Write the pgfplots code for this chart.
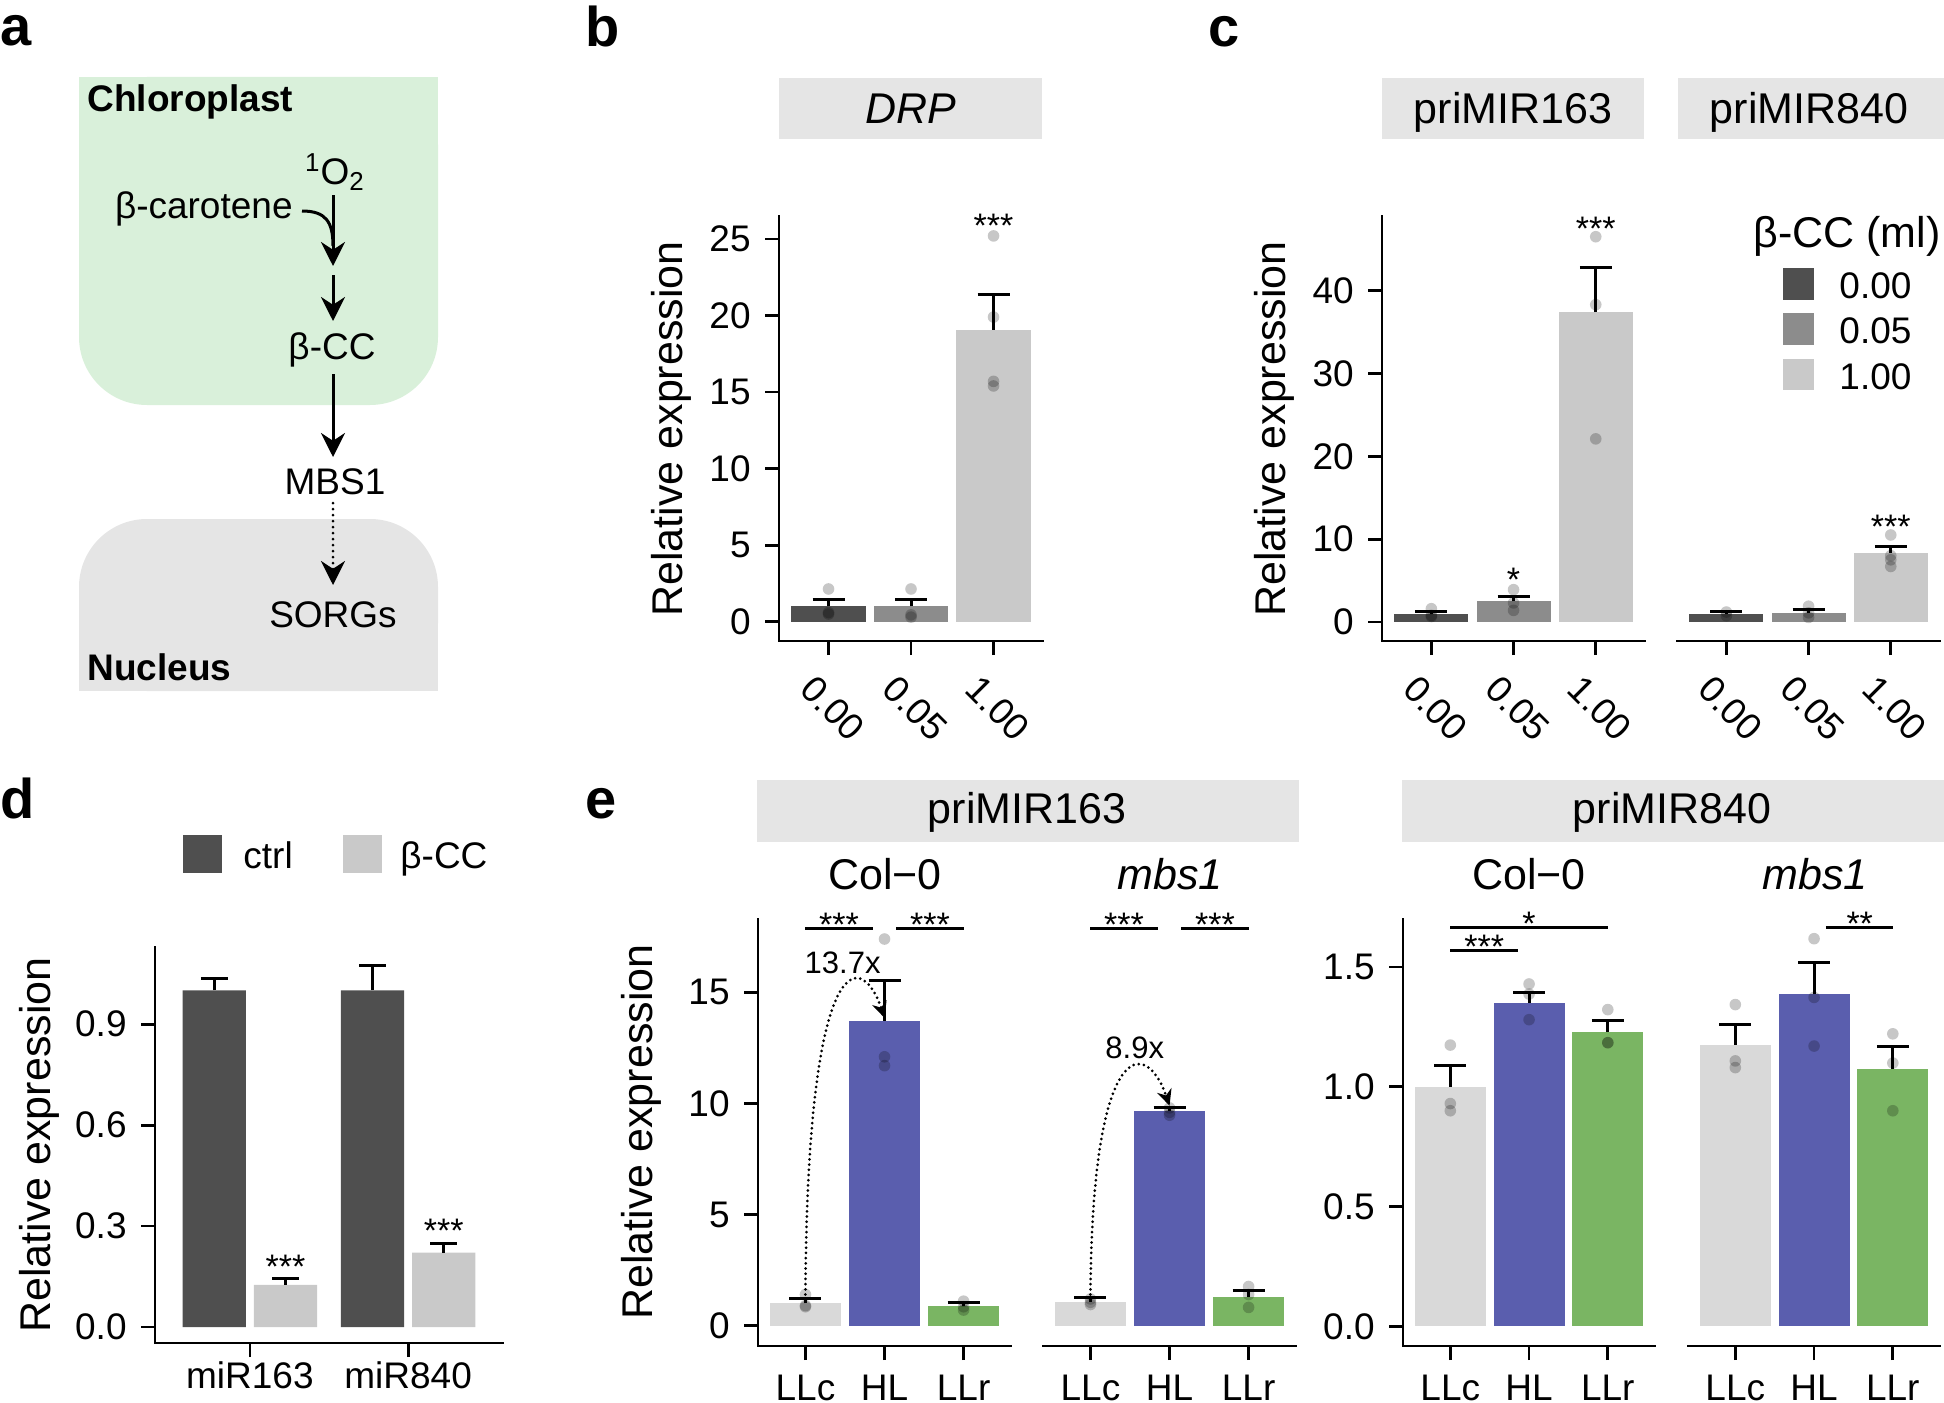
\documentclass[border=0pt]{standalone}
\usepackage{fontspec}
\setmainfont{Liberation Sans}
\usepackage{pgfplots}
\pgfplotsset{compat=1.18}
\usetikzlibrary{arrows.meta}

% colours
\definecolor{g0}{HTML}{4F4F4F}
\definecolor{g1}{HTML}{8C8C8C}
\definecolor{g2}{HTML}{C9C9C9}
\definecolor{llc}{HTML}{D9D9D9}
\definecolor{hl}{HTML}{5A5EAE}
\definecolor{llr}{HTML}{7AB563}
\definecolor{stripgray}{HTML}{E5E5E5}
\definecolor{chloro}{HTML}{D9F0DA}

\newcommand{\tickfont}{\fontsize{18.5bp}{22bp}\selectfont}
\newcommand{\titlefont}{\fontsize{21.5bp}{26bp}\selectfont}
\newcommand{\starfont}{\fontsize{17bp}{20bp}\selectfont}
\newcommand{\panelfont}{\fontsize{28bp}{32bp}\selectfont\bfseries}

\pgfplotsset{
  gg/.style={
    scale only axis, anchor=south west, clip=false,
    axis x line*=bottom, axis y line*=left,
    axis line style={line width=1.4bp, line cap=rect},
    tick style={line width=1.4bp, black},
    tick align=outside, major tick length=7bp,
    xmin=0.4, xmax=3.6, xtick={1,2,3},
    tick label style={font=\tickfont},
    /pgf/number format/assume math mode=true,
    yticklabel style={inner sep=0pt, xshift=-7bp},
  },
  noy/.style={axis y line=none, ymajorticks=false},
  rot/.style={xticklabel style={inner sep=0pt, anchor=north west, xshift=-6bp, yshift=-9bp, rotate=-45}},
  flat/.style={xticklabel style={inner sep=0pt, anchor=north, yshift=#1}},
  bar/.style={ybar, bar width=0.9, bar shift=0pt, draw=none, fill=#1,
    /pgfplots/error bars/y dir=plus, /pgfplots/error bars/y explicit,
    /pgfplots/error bars/error mark=|,
    /pgfplots/error bars/error bar style={draw=black, line width=1.5bp, solid},
    /pgfplots/error bars/error mark options={draw=black, line width=1.5bp, mark size=8bp}},
  pts/.style={only marks, mark=*, mark size=2.9bp,
    mark options={solid, fill=black, fill opacity=0.22, draw opacity=0}},
}
\tikzset{
  star/.style={font=\starfont, anchor=base, inner sep=0pt},
  sig/.style={line width=1.4bp},
  fold/.style={line width=1.5bp, dash pattern=on 0pt off 2.6bp, line cap=round,
    -{Stealth[length=8bp, width=7.5bp]}},
}

\begin{document}
\begin{tikzpicture}

% ---------- panel b ----------
\begin{axis}[gg, rot, at={(389.5bp,-320.5bp)}, width=132bp, height=212.5bp,
  ymin=-1.26, ymax=26.5, ytick={0,5,10,15,20,25}, xticklabels={0.00,0.05,1.00}]
\addplot[bar=g0] coordinates {(1,1.0) +- (0,0.42)};
\addplot[bar=g1] coordinates {(2,1.02) +- (0,0.44)};
\addplot[bar=g2] coordinates {(3,19.06) +- (0,2.34)};
\addplot[pts] coordinates {(1,2.14) (1,0.6) (1,0.5) (2,2.14) (2,0.3) (2,0.45)
  (3,25.2) (3,19.9) (3,15.7) (3,15.4)};
\node[star] at (axis cs:3,25.1) {***};
\end{axis}

% ---------- panel c ----------
\begin{axis}[gg, rot, at={(691bp,-320.5bp)}, width=131.5bp, height=212.5bp,
  ymin=-2.3, ymax=49, ytick={0,10,20,30,40}, xticklabels={0.00,0.05,1.00}]
\addplot[bar=g0] coordinates {(1,1.0) +- (0,0.27)};
\addplot[bar=g1] coordinates {(2,2.5) +- (0,0.6)};
\addplot[bar=g2] coordinates {(3,37.4) +- (0,5.4)};
\addplot[pts] coordinates {(1,1.6) (1,0.66) (1,0.8) (2,3.9) (2,2.3) (2,1.4)
  (3,46.5) (3,38.3) (3,22.1)};
\node[star] at (axis cs:2,3.7) {*};
\node[star] at (axis cs:3,46.1) {***};
\end{axis}
\begin{axis}[gg, noy, rot, at={(838.5bp,-320.5bp)}, width=131.5bp, height=212.5bp,
  ymin=-2.3, ymax=49, xticklabels={0.00,0.05,1.00}]
\addplot[bar=g0] coordinates {(1,0.97) +- (0,0.27)};
\addplot[bar=g1] coordinates {(2,1.08) +- (0,0.37)};
\addplot[bar=g2] coordinates {(3,8.35) +- (0,0.8)};
\addplot[pts] coordinates {(1,1.2) (1,0.75) (2,1.9) (2,0.55) (2,1.1)
  (3,10.5) (3,8.0) (3,7.5) (3,6.7)};
\node[star] at (axis cs:3,10.1) {***};
\end{axis}

% ---------- panel d ----------
\begin{axis}[gg, flat=-2bp, at={(77.5bp,-671.5bp)}, width=174bp, height=198bp,
  xmin=0.4, xmax=2.6, xtick={1,2}, xticklabels={miR163,miR840},
  ymin=-0.0475, ymax=1.129, ytick={0,0.3,0.6,0.9}, yticklabels={0.0,0.3,0.6,0.9}]
\addplot[bar=g0, bar width=0.4,
  /pgfplots/error bars/error mark options={draw=black, line width=1.5bp, mark size=6.75bp}]
  coordinates {(0.775,1.0) +- (0,0.037) (1.775,1.0) +- (0,0.073)};
\addplot[bar=g2, bar width=0.4,
  /pgfplots/error bars/error mark options={draw=black, line width=1.5bp, mark size=6.75bp}]
  coordinates {(1.225,0.125) +- (0,0.019) (2.225,0.221) +- (0,0.028)};
\node[star] at (axis cs:1.225,0.145) {***};
\node[star] at (axis cs:2.225,0.252) {***};
\end{axis}

% ---------- panel e: priMIR163 ----------
\begin{axis}[gg, flat=-7.5bp, at={(379bp,-673bp)}, width=126.5bp, height=213.5bp,
  ymin=-0.92, ymax=18.3, ytick={0,5,10,15}, xticklabels={LLc,HL,LLr}]
\addplot[bar=llc] coordinates {(1,1.0) +- (0,0.22)};
\addplot[bar=hl] coordinates {(2,13.73) +- (0,1.81)};
\addplot[bar=llr] coordinates {(3,0.89) +- (0,0.14)};
\addplot[pts] coordinates {(1,1.4) (1,0.85) (1,0.9) (2,17.4) (2,12.1) (2,11.7)
  (3,1.1) (3,0.85) (3,0.7)};
\draw[sig] (axis cs:1,17.88) -- (axis cs:1.85,17.88);
\draw[sig] (axis cs:2.15,17.88) -- (axis cs:3,17.88);
\node[star] at (axis cs:1.425,17.5) {***};
\node[star] at (axis cs:2.575,17.5) {***};
\draw[fold] (axis cs:1,1.4) .. controls (axis cs:1.02,17.0) and (axis cs:1.7,17.0) .. (axis cs:2,13.85);
\node[font=\fontsize{15.5bp}{18bp}\selectfont, inner sep=0pt] at (axis cs:1.47,16.35) {13.7x};
\end{axis}
\begin{axis}[gg, noy, flat=-7.5bp, at={(521.5bp,-673bp)}, width=126.5bp, height=213.5bp,
  ymin=-0.92, ymax=18.3, xticklabels={LLc,HL,LLr}]
\addplot[bar=llc] coordinates {(1,1.07) +- (0,0.18)};
\addplot[bar=hl] coordinates {(2,9.65) +- (0,0.16)};
\addplot[bar=llr] coordinates {(3,1.31) +- (0,0.27)};
\addplot[pts] coordinates {(1,1.2) (1,0.95) (1,1.05) (2,9.8) (2,9.47) (2,9.6)
  (3,1.76) (3,1.4) (3,0.82)};
\draw[sig] (axis cs:1,17.88) -- (axis cs:1.85,17.88);
\draw[sig] (axis cs:2.15,17.88) -- (axis cs:3,17.88);
\node[star] at (axis cs:1.425,17.5) {***};
\node[star] at (axis cs:2.575,17.5) {***};
\draw[fold] (axis cs:1,1.4) .. controls (axis cs:1.02,13.0) and (axis cs:1.7,13.0) .. (axis cs:2,9.9);
\node[font=\fontsize{15.5bp}{18bp}\selectfont, inner sep=0pt] at (axis cs:1.56,12.5) {8.9x};
\end{axis}

% ---------- panel e: priMIR840 ----------
\begin{axis}[gg, flat=-7.5bp, at={(701.5bp,-673bp)}, width=126bp, height=213.5bp,
  ymin=-0.082, ymax=1.70, ytick={0,0.5,1,1.5}, yticklabels={0.0,0.5,1.0,1.5},
  xticklabels={LLc,HL,LLr}]
\addplot[bar=llc] coordinates {(1,1.0) +- (0,0.089)};
\addplot[bar=hl] coordinates {(2,1.351) +- (0,0.044)};
\addplot[bar=llr] coordinates {(3,1.229) +- (0,0.048)};
\addplot[pts] coordinates {(1,1.174) (1,0.93) (1,0.90) (2,1.429) (2,1.387) (2,1.28)
  (3,1.322) (3,1.184) (3,1.184)};
\draw[sig] (axis cs:1,1.568) -- (axis cs:1.86,1.568);
\draw[sig] (axis cs:1,1.664) -- (axis cs:3,1.664);
\node[star] at (axis cs:1.43,1.535) {***};
\node[star] at (axis cs:2,1.631) {*};
\end{axis}
\begin{axis}[gg, noy, flat=-7.5bp, at={(844bp,-673bp)}, width=126bp, height=213.5bp,
  ymin=-0.082, ymax=1.70, xticklabels={LLc,HL,LLr}]
\addplot[bar=llc] coordinates {(1,1.175) +- (0,0.085)};
\addplot[bar=hl] coordinates {(2,1.387) +- (0,0.132)};
\addplot[bar=llr] coordinates {(3,1.074) +- (0,0.095)};
\addplot[pts] coordinates {(1,1.343) (1,1.108) (1,1.08) (2,1.618) (2,1.373) (2,1.17)
  (3,1.221) (3,1.099) (3,0.90)};
\draw[sig] (axis cs:2.15,1.664) -- (axis cs:3,1.664);
\node[star] at (axis cs:2.58,1.631) {**};
\end{axis}

% ---------- everything else, in pixel units of the reference ----------
\begin{scope}[x=0.5bp, y=-0.5bp]
\useasboundingbox (0,0) rectangle (1944,1402);

% panel letters
\node[anchor=base west, inner sep=0pt, font=\panelfont] at (0,46) {a};
\node[anchor=base west, inner sep=0pt, font=\panelfont] at (585,47) {b};
\node[anchor=base west, inner sep=0pt, font=\panelfont] at (1208,47) {c};
\node[anchor=base west, inner sep=0pt, font=\panelfont] at (0,818) {d};
\node[anchor=base west, inner sep=0pt, font=\panelfont] at (585,818) {e};

% panel a diagram
\fill[chloro, rounded corners=34bp] (79,77) rectangle (438,405);
\fill[chloro] (79,77) rectangle (438,250);
\fill[stripgray, rounded corners=34bp] (79,519) rectangle (438,691);
\fill[stripgray] (79,600) rectangle (438,691);
\begin{scope}[font=\fontsize{18.5bp}{22bp}\selectfont, inner sep=0pt]
\node[anchor=base west, font=\fontsize{18.5bp}{22bp}\selectfont\bfseries] at (87,112) {Chloroplast};
\node[anchor=base west, font=\fontsize{18.5bp}{22bp}\selectfont\bfseries] at (87,680) {Nucleus};
\node[anchor=base] at (335,184) {\textsuperscript{1}O\textsubscript{2}};
\node[anchor=base east] at (293,218) {β-carotene};
\node[anchor=base] at (332,359) {β-CC};
\node[anchor=base] at (335,494) {MBS1};
\node[anchor=base] at (333,627) {SORGs};
\end{scope}
\begin{scope}[line width=1.5bp, >={Stealth[length=12bp, width=12bp]}]
\draw[->] (333,195) -- (333,266);
\draw (302,211) .. controls (326,211) and (333,222) .. (333,246);
\draw[->] (333,275) -- (333,321);
\draw[->] (333,374) -- (333,457);
\draw[->, dash pattern=on 0pt off 3bp, line cap=round] (333,503) -- (333,585);
\end{scope}

% facet strips
\fill[stripgray] (779,78) rectangle (1042,139);
\node[anchor=base, inner sep=0pt, font=\titlefont\itshape] at (910.5,124) {DRP};
\fill[stripgray] (1382,78) rectangle (1644,139);
\node[anchor=base, inner sep=0pt, font=\titlefont] at (1513,124) {priMIR163};
\fill[stripgray] (1678,78) rectangle (1944,139);
\node[anchor=base, inner sep=0pt, font=\titlefont] at (1809,124) {priMIR840};
\fill[stripgray] (757,780) rectangle (1299,842);
\node[anchor=base, inner sep=0pt, font=\titlefont] at (1027,823) {priMIR163};
\fill[stripgray] (1402,780) rectangle (1944,842);
\node[anchor=base, inner sep=0pt, font=\titlefont] at (1672,823) {priMIR840};
\node[anchor=base, inner sep=0pt, font=\titlefont] at (885,889) {Col−0};
\node[anchor=base, inner sep=0pt, font=\titlefont\itshape] at (1170,889) {mbs1};
\node[anchor=base, inner sep=0pt, font=\titlefont] at (1529,889) {Col−0};
\node[anchor=base, inner sep=0pt, font=\titlefont\itshape] at (1815,889) {mbs1};

% y axis titles
\node[rotate=90, anchor=base, inner sep=0pt, font=\titlefont] at (682,429) {Relative expression};
\node[rotate=90, anchor=base, inner sep=0pt, font=\titlefont] at (1285,429) {Relative expression};
\node[rotate=90, anchor=base, inner sep=0pt, font=\titlefont] at (50,1145) {Relative expression};
\node[rotate=90, anchor=base, inner sep=0pt, font=\titlefont] at (652,1132) {Relative expression};

% legend of panel c
\node[anchor=base west, inner sep=0pt, font=\titlefont] at (1753,247) {β-CC (ml)};
\fill[g0] (1783,268) rectangle (1814,300);
\fill[g1] (1783,313) rectangle (1814,345);
\fill[g2] (1783,359) rectangle (1814,390);
\node[anchor=base west, inner sep=0pt, font=\tickfont] at (1839,298) {0.00};
\node[anchor=base west, inner sep=0pt, font=\tickfont] at (1839,343) {0.05};
\node[anchor=base west, inner sep=0pt, font=\tickfont] at (1839,389) {1.00};

% legend of panel d
\fill[g0] (183,835) rectangle (222,873);
\node[anchor=base west, inner sep=0pt, font=\tickfont] at (243,868) {ctrl};
\fill[g2] (343,835) rectangle (382,873);
\node[anchor=base west, inner sep=0pt, font=\tickfont] at (400,868) {β-CC};
\end{scope}

\end{tikzpicture}
\end{document}
